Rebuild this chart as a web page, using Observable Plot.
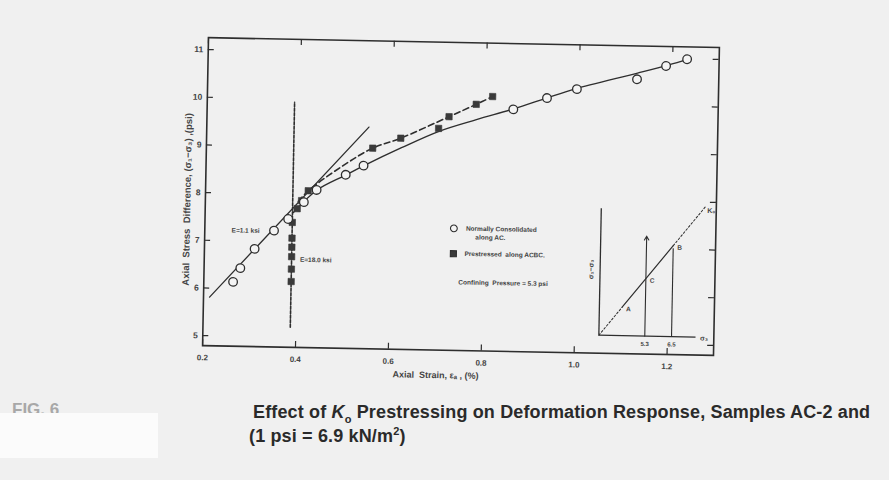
<!DOCTYPE html>
<html><head><meta charset="utf-8">
<script src="https://cdn.jsdelivr.net/npm/d3@7"></script>
<script src="https://cdn.jsdelivr.net/npm/@observablehq/plot@0.6"></script>
<style>
html,body{margin:0;padding:0;background:#f0f0f0;}
#page{position:relative;width:889px;height:480px;overflow:hidden;font-family:"Liberation Sans",Arial,sans-serif;background:#f0f0f0;}
#chart{position:absolute;left:0;top:0;width:889px;height:400px;transform:rotate(1.1deg);transform-origin:458px 196px;}
#chart svg{position:absolute;}
.cap{position:absolute;font-weight:bold;font-size:18px;color:#2a2a2a;white-space:nowrap;letter-spacing:0.15px;}
#fig{position:absolute;left:12px;top:400px;font-size:17px;font-weight:bold;color:#a8a8a8;}
#mask{position:absolute;left:0;top:413px;width:158px;height:45px;background:#fbfbfb;}
</style></head>
<body><div id="page">
<div id="chart"></div>
<div id="fig">FIG. 6</div>
<div id="mask"></div>
<div class="cap" id="cap1" style="left:253px;top:402px;">Effect of <i>K</i><sub style="font-size:11px">o</sub> Prestressing on Deformation Response, Samples AC-2 and</div>
<div class="cap" id="cap2" style="left:249px;top:425px;">(1 psi = 6.9 kN/m<sup style="font-size:11px">2</sup>)</div>
</div>
<script>
// ---- axes ----
const xTicks = [0.2, 0.4, 0.6, 0.8, 1.0, 1.2];
const yTicks = [5, 6, 7, 8, 9, 10, 11];
const xLabel = "Axial  Strain, εₐ , (%)";
const yLabel = "Axial  Stress  Difference, (σ₁−σ₃) ,(psi)";

// ---- Normally consolidated (open circles) ----
const ncStrain = [0.263, 0.278, 0.308, 0.349, 0.379, 0.412, 0.439, 0.501, 0.539, 0.859, 0.931, 0.995, 1.124, 1.186, 1.231];
const ncStress = [6.14, 6.43, 6.84, 7.23, 7.48, 7.84, 8.10, 8.43, 8.63, 9.87, 10.12, 10.32, 10.55, 10.84, 10.99];

// ---- Prestressed (filled squares) ----
const psStrain = [0.388, 0.388, 0.388, 0.388, 0.388, 0.388, 0.398, 0.407, 0.421, 0.558, 0.618, 0.699, 0.721, 0.779, 0.814];
const psStress = [6.17, 6.43, 6.69, 6.89, 7.08, 7.41, 7.70, 7.87, 8.08, 9.00, 9.22, 9.44, 9.69, 9.96, 10.13];

// ---- fitted curves ----
const ncCurveStrain = [0.39, 0.44, 0.50, 0.54, 0.62, 0.70, 0.78, 0.86, 0.93, 0.99, 1.125, 1.19, 1.235];
const ncCurveStress = [7.62, 8.10, 8.42, 8.63, 9.02, 9.38, 9.64, 9.88, 10.12, 10.32, 10.68, 10.86, 11.0];
const psCurveStrain = [0.40, 0.421, 0.495, 0.558, 0.618, 0.721, 0.779, 0.814];
const psCurveStress = [7.85, 8.08, 8.62, 9.00, 9.22, 9.69, 9.96, 10.13];
const eLowStrain = [0.213, 0.549];   // E = 1.1 ksi line
const eLowStress = [5.81, 9.44];
const eHighStrain = [0.388, 0.388];  // E = 18.0 ksi line
const eHighStress = [5.21, 9.93];

// ---- annotations (data coordinates) ----
const legendLabels = ["Normally Consolidated", "along AC.", "Prestressed  along ACBC.", "Confining  Pressure = 5.3 psi"];
const legendStrain = [0.762, 0.815, 0.760, 0.748];
const legendStress = [7.35, 7.17, 6.82, 6.22];
const legendAnchor = ["start", "middle", "start", "start"];
const legendSymbolStrain = [0.736, 0.736];
const legendSymbolStress = [7.35, 6.82];
const legendSymbols = ["circle", "square"];
const eLabels = ["E=1.1 ksi", "E=18.0 ksi"];
const eLabelStrain = [0.318, 0.406];
const eLabelStress = [7.22, 6.63];
const eLabelAnchor = ["end", "start"];

// ---- inset (stress path sketch) ----
const kLineS3 = [3.24, 4.26, 5.3, 6.5, 7.95];
const kLineQ = [0, 2.25, 4.55, 7.19, 10.4];
const pointNames = ["A", "C", "B"];
const pointS3 = [4.26, 5.3, 6.5];
const pointQ = [2.25, 4.55, 7.19];
const sigma3Ticks = [5.3, 6.5];
const sigma3Tops = [7.9, 6.95];
const insetAxisS3 = [3.24, 7.6];
const insetAxisQ = [0, 10];

const ink = "#2e2e2e";
const font = "Liberation Sans, Arial, sans-serif";
const zip = (xs, ys) => xs.map((x, i) => ({x, y: ys[i], i}));

const nc = zip(ncStrain, ncStress);
const ps = zip(psStrain, psStress);
const ncCurve = zip(ncCurveStrain, ncCurveStress);
const psCurve = zip(psCurveStrain, psCurveStress);
const eLow = zip(eLowStrain, eLowStress);
const eHigh = zip(eHighStrain, eHighStress);
const legText = legendLabels.map((t, i) => ({t, x: legendStrain[i], y: legendStress[i], a: legendAnchor[i]}));
const legSym = legendSymbols.map((s, i) => ({s, x: legendSymbolStrain[i], y: legendSymbolStress[i]}));
const eText = eLabels.map((t, i) => ({t, x: eLabelStrain[i], y: eLabelStress[i], a: eLabelAnchor[i]}));

const W = 889, H = 400, mL = 205, mR = 173, mT = 42, mB = 50;
const pw = W - mL - mR, ph = H - mT - mB;

const main = Plot.plot({
  width: W, height: H,
  marginLeft: mL, marginRight: mR, marginTop: mT, marginBottom: mB,
  style: {background: "transparent", fontFamily: font, color: ink, overflow: "visible"},
  x: {domain: [0.2, 1.30], label: null},
  y: {domain: [4.79, 11.25], label: null},
  marks: [
    Plot.frame({stroke: ink, strokeWidth: 1.6}),
    // inward ticks on all four sides
    Plot.ruleY(yTicks, {y: d => d, insetRight: pw - 6, stroke: ink, strokeWidth: 1.2}),
    Plot.ruleY(yTicks, {y: d => d, insetLeft: pw - 6, stroke: ink, strokeWidth: 1.2}),
    Plot.ruleX(xTicks, {x: d => d, insetTop: ph - 6, stroke: ink, strokeWidth: 1.2}),
    Plot.ruleX(xTicks, {x: d => d, insetBottom: ph - 6, stroke: ink, strokeWidth: 1.2}),
    Plot.axisX(xTicks, {tickSize: 0, tickPadding: 9, tickFormat: d3.format(".1f"), fontSize: 8, fontWeight: "bold", fill: "#444", label: null}),
    Plot.axisY(yTicks, {tickSize: 0, tickPadding: 5, fontSize: 8.5, fontWeight: "bold", fill: "#444", label: null}),
    Plot.text([xLabel], {frameAnchor: "bottom", textAnchor: "middle", dx: -22, dy: 28, fontSize: 9, fontWeight: "bold", fill: "#444", ariaLabel: "xlabel"}),
    Plot.text([yLabel], {frameAnchor: "left", textAnchor: "middle", dx: -18, dy: 8, rotate: -90, fontSize: 9.5, fontWeight: "bold", fill: "#444", ariaLabel: "ylabel"}),
    // lines
    Plot.line(eLow, {x: "x", y: "y", stroke: ink, strokeWidth: 1.3}),
    Plot.line(eHigh, {x: "x", y: "y", stroke: ink, strokeWidth: 1.6, strokeDasharray: "3,1.5"}),
    Plot.line(ncCurve, {x: "x", y: "y", stroke: ink, strokeWidth: 1.4, curve: "catmull-rom"}),
    Plot.line(psCurve, {x: "x", y: "y", stroke: ink, strokeWidth: 1.6, strokeDasharray: "6,3.5", curve: "catmull-rom"}),
    // points
    Plot.dot(ps, {x: "x", y: "y", symbol: "square", r: 3.6, fill: "#3a3a3a", stroke: "#3a3a3a", strokeWidth: 0.6}),
    Plot.dot(nc, {x: "x", y: "y", r: 4.3, fill: "#f4f4f4", stroke: ink, strokeWidth: 1.3}),
    // legend and annotations
    Plot.dot(legSym, {x: "x", y: "y", symbol: "s", r: 3.4, fill: d => d.s === "square" ? "#3a3a3a" : "#f4f4f4", stroke: ink, strokeWidth: 1.1}),
    Plot.text(legText, {x: "x", y: "y", text: "t", textAnchor: "start", fontSize: 6.5, fontWeight: "bold", fill: "#444", filter: d => d.a === "start"}),
    Plot.text(legText, {x: "x", y: "y", text: "t", textAnchor: "middle", fontSize: 6.5, fontWeight: "bold", fill: "#444", filter: d => d.a === "middle"}),
    Plot.text(eText, {x: "x", y: "y", text: "t", textAnchor: "end", fontSize: 6.5, fontWeight: "bold", fill: "#444", filter: d => d.a === "end"}),
    Plot.text(eText, {x: "x", y: "y", text: "t", textAnchor: "start", fontSize: 6.5, fontWeight: "bold", fill: "#444", filter: d => d.a === "start"})
  ]
});
main.style.left = "0px"; main.style.top = "0px";
d3.select(main).selectAll("[aria-label=ylabel] text").style("letter-spacing", "3.9px");
d3.select(main).selectAll("[aria-label=xlabel] text").style("letter-spacing", "2.4px");
document.getElementById("chart").appendChild(main);

// ---- inset ----
const kLine = zip(kLineS3, kLineQ);
const pts = pointNames.map((n, i) => ({n, x: pointS3[i], y: pointQ[i]}));
const verts = sigma3Ticks.map((s, i) => ({s, top: sigma3Tops[i]}));
const inset = Plot.plot({
  width: 145, height: 160,
  marginLeft: 29, marginRight: 11, marginTop: 7, marginBottom: 19,
  style: {background: "transparent", fontFamily: font, color: ink, overflow: "visible"},
  x: {domain: [3.24, 7.95], axis: null},
  y: {domain: [0, 10.59], axis: null},
  marks: [
    Plot.ruleX([insetAxisS3[0]], {x: d => d, y1: insetAxisQ[0], y2: insetAxisQ[1], stroke: ink, strokeWidth: 1.3}),
    Plot.ruleY([insetAxisQ[0]], {y: d => d, x1: insetAxisS3[0], x2: insetAxisS3[1], stroke: ink, strokeWidth: 1.3}),
    Plot.line(kLine, {x: "x", y: "y", filter: d => d.i <= 1, stroke: ink, strokeWidth: 1, strokeDasharray: "2,2"}),
    Plot.line(kLine, {x: "x", y: "y", filter: d => d.i >= 1 && d.i <= 3, stroke: ink, strokeWidth: 1.2}),
    Plot.line(kLine, {x: "x", y: "y", filter: d => d.i >= 3, stroke: ink, strokeWidth: 1, strokeDasharray: "2,2"}),
    Plot.arrow(verts.slice(0, 1), {x1: "s", x2: "s", y1: 0, y2: "top", stroke: ink, strokeWidth: 1.1, headLength: 6}),
    Plot.ruleX(verts.slice(1), {x: "s", y1: 0, y2: "top", stroke: ink, strokeWidth: 1.1}),
    Plot.text(sigma3Ticks, {x: d => d, y: 0, dy: 8, text: d => d.toFixed(1), fontSize: 6, fontWeight: "bold", fill: "#444"}),
    Plot.text(pts, {x: "x", y: "y", text: "n", dx: 4, dy: 2, textAnchor: "start", fontSize: 6.5, fontWeight: "bold", fill: "#444"}),
    Plot.text(["σ₁−σ₃"], {x: insetAxisS3[0], y: 5.2, dx: -9, rotate: -90, fontSize: 7, fontWeight: "bold", fill: "#444"}),
    Plot.text(["σ₃"], {x: insetAxisS3[1], y: 0, dx: 8, dy: 1, fontSize: 7, fontWeight: "bold", fill: "#444"}),
    Plot.text(["K₀"], {x: kLineS3[4], y: kLineQ[4], dx: 1, dy: 5, textAnchor: "start", fontSize: 7, fontWeight: "bold", fill: "#444"})
  ]
});
inset.style.left = "572px"; inset.style.top = "191px";
document.getElementById("chart").appendChild(inset);
</script>
</body></html>
